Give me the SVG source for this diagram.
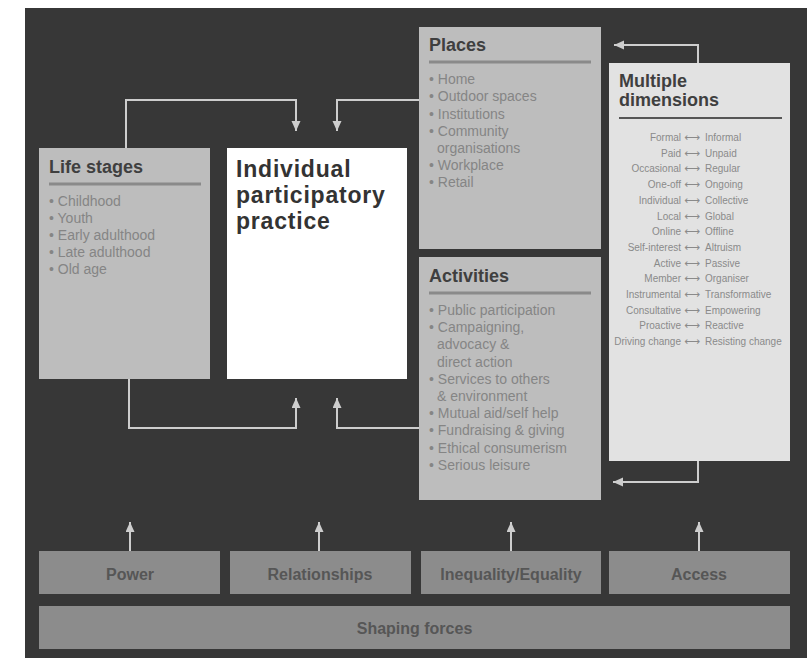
<svg xmlns="http://www.w3.org/2000/svg" width="807" height="658" viewBox="0 0 807 658">
<style>
.box{fill:#bdbdbd;}
.hd{font-family:"Liberation Sans",Arial,sans-serif;font-weight:bold;font-size:18px;fill:#3f3f3f;}
.it{font-family:"Liberation Sans",Arial,sans-serif;font-size:14px;fill:#858585;}
.rule{stroke:#8a8a8a;stroke-width:3;}
.dl{font-family:"Liberation Sans",Arial,sans-serif;font-size:10px;fill:#8a8a8a;text-anchor:end;}
.dr{font-family:"Liberation Sans",Arial,sans-serif;font-size:10px;fill:#8a8a8a;}
.da{font-family:"DejaVu Sans",sans-serif;font-size:11px;fill:#8a8a8a;text-anchor:middle;}
.force{fill:#8c8c8c;}
.fl{font-family:"Liberation Sans",Arial,sans-serif;font-weight:bold;font-size:16px;fill:#565656;text-anchor:middle;}
.conn{fill:none;stroke:#cdcdcd;stroke-width:2;}
</style>
<defs>
<marker id="ah" markerUnits="userSpaceOnUse" markerWidth="11" markerHeight="10" refX="10" refY="4.5" orient="auto">
<path d="M0,0 L10,4.5 L0,9 Z" fill="#cdcdcd"/>
</marker>
</defs>
<rect x="25" y="8" width="782" height="650" fill="#373737"/>

<g id="life-stages">
<rect class="box" x="39" y="148" width="171" height="231"/>
<text class="hd" x="49" y="173">Life stages</text>
<line class="rule" x1="49" y1="184" x2="201" y2="184"/>
<text class="it" x="49" y="206">• Childhood</text>
<text class="it" x="49" y="223">• Youth</text>
<text class="it" x="49" y="240">• Early adulthood</text>
<text class="it" x="49" y="257">• Late adulthood</text>
<text class="it" x="49" y="274">• Old age</text>
</g>

<g id="individual">
<rect x="227" y="148" width="180" height="231" fill="#ffffff"/>
<text font-family="Liberation Sans, Arial, sans-serif" font-weight="bold" font-size="23" letter-spacing="0.8" fill="#333333">
<tspan x="236" y="177">Individual</tspan>
<tspan x="236" y="203">participatory</tspan>
<tspan x="236" y="229">practice</tspan>
</text>
</g>

<g id="places">
<rect class="box" x="419" y="27" width="182" height="222"/>
<text class="hd" x="429" y="51">Places</text>
<line class="rule" x1="429" y1="62" x2="591" y2="62"/>
<text class="it" x="429" y="84">• Home</text>
<text class="it" x="429" y="101">• Outdoor spaces</text>
<text class="it" x="429" y="118.5">• Institutions</text>
<text class="it" x="429" y="135.5">• Community</text>
<text class="it" x="437" y="152.5">organisations</text>
<text class="it" x="429" y="170">• Workplace</text>
<text class="it" x="429" y="187">• Retail</text>
</g>

<g id="activities">
<rect class="box" x="419" y="257" width="182" height="243"/>
<text class="hd" x="429" y="282">Activities</text>
<line class="rule" x1="429" y1="293" x2="591" y2="293"/>
<text class="it" x="429" y="315">• Public participation</text>
<text class="it" x="429" y="332.2">• Campaigning,</text>
<text class="it" x="437" y="349.4">advocacy &amp;</text>
<text class="it" x="437" y="366.6">direct action</text>
<text class="it" x="429" y="383.8">• Services to others</text>
<text class="it" x="437" y="401">&amp; environment</text>
<text class="it" x="429" y="418.2">• Mutual aid/self help</text>
<text class="it" x="429" y="435.4">• Fundraising &amp; giving</text>
<text class="it" x="429" y="452.6">• Ethical consumerism</text>
<text class="it" x="429" y="469.8">• Serious leisure</text>
</g>

<g id="multiple-dimensions">
<rect x="609" y="63" width="181" height="398" fill="#e2e2e2"/>
<text class="hd" x="619" y="87">Multiple</text>
<text class="hd" x="619" y="106">dimensions</text>
<line x1="619" y1="118" x2="782" y2="118" stroke="#555555" stroke-width="2"/>
<text class="dl" x="681" y="141">Formal</text><text class="da" x="692.5" y="141">⟷</text><text class="dr" x="705" y="141">Informal</text>
<text class="dl" x="681" y="156.7">Paid</text><text class="da" x="692.5" y="156.7">⟷</text><text class="dr" x="705" y="156.7">Unpaid</text>
<text class="dl" x="681" y="172.4">Occasional</text><text class="da" x="692.5" y="172.4">⟷</text><text class="dr" x="705" y="172.4">Regular</text>
<text class="dl" x="681" y="188.1">One-off</text><text class="da" x="692.5" y="188.1">⟷</text><text class="dr" x="705" y="188.1">Ongoing</text>
<text class="dl" x="681" y="203.8">Individual</text><text class="da" x="692.5" y="203.8">⟷</text><text class="dr" x="705" y="203.8">Collective</text>
<text class="dl" x="681" y="219.5">Local</text><text class="da" x="692.5" y="219.5">⟷</text><text class="dr" x="705" y="219.5">Global</text>
<text class="dl" x="681" y="235.2">Online</text><text class="da" x="692.5" y="235.2">⟷</text><text class="dr" x="705" y="235.2">Offline</text>
<text class="dl" x="681" y="250.9">Self-interest</text><text class="da" x="692.5" y="250.9">⟷</text><text class="dr" x="705" y="250.9">Altruism</text>
<text class="dl" x="681" y="266.6">Active</text><text class="da" x="692.5" y="266.6">⟷</text><text class="dr" x="705" y="266.6">Passive</text>
<text class="dl" x="681" y="282.3">Member</text><text class="da" x="692.5" y="282.3">⟷</text><text class="dr" x="705" y="282.3">Organiser</text>
<text class="dl" x="681" y="298">Instrumental</text><text class="da" x="692.5" y="298">⟷</text><text class="dr" x="705" y="298">Transformative</text>
<text class="dl" x="681" y="313.7">Consultative</text><text class="da" x="692.5" y="313.7">⟷</text><text class="dr" x="705" y="313.7">Empowering</text>
<text class="dl" x="681" y="329.4">Proactive</text><text class="da" x="692.5" y="329.4">⟷</text><text class="dr" x="705" y="329.4">Reactive</text>
<text class="dl" x="681" y="345.1">Driving change</text><text class="da" x="692.5" y="345.1">⟷</text><text class="dr" x="705" y="345.1">Resisting change</text>
</g>

<g id="power">
<rect class="force" x="39" y="551" width="181" height="43"/>
<text class="fl" x="130" y="580">Power</text>
</g>
<g id="relationships">
<rect class="force" x="230" y="551" width="181" height="43"/>
<text class="fl" x="320" y="580">Relationships</text>
</g>
<g id="inequality">
<rect class="force" x="421" y="551" width="180" height="43"/>
<text class="fl" x="511" y="580">Inequality/Equality</text>
</g>
<g id="access">
<rect class="force" x="609" y="551" width="181" height="43"/>
<text class="fl" x="699" y="580">Access</text>
</g>
<g id="shaping-forces">
<rect class="force" x="39" y="606" width="751" height="43"/>
<text class="fl" x="414.5" y="634" font-size="18" fill="#3c3c3c">Shaping forces</text>
</g>

<g id="connectors">
<path class="conn" d="M126,148 V100 H296 V131" marker-end="url(#ah)"/>
<path class="conn" d="M419,100 H337 V131" marker-end="url(#ah)"/>
<path class="conn" d="M129,379 V428 H296 V398" marker-end="url(#ah)"/>
<path class="conn" d="M419,428 H337 V398" marker-end="url(#ah)"/>
<path class="conn" d="M698,63 V45 H614" marker-end="url(#ah)"/>
<path class="conn" d="M698,461 V482 H613" marker-end="url(#ah)"/>
<path class="conn" d="M130,551 V522" marker-end="url(#ah)"/>
<path class="conn" d="M319,551 V522" marker-end="url(#ah)"/>
<path class="conn" d="M511,551 V522" marker-end="url(#ah)"/>
<path class="conn" d="M699,551 V522" marker-end="url(#ah)"/>
</g>
</svg>
